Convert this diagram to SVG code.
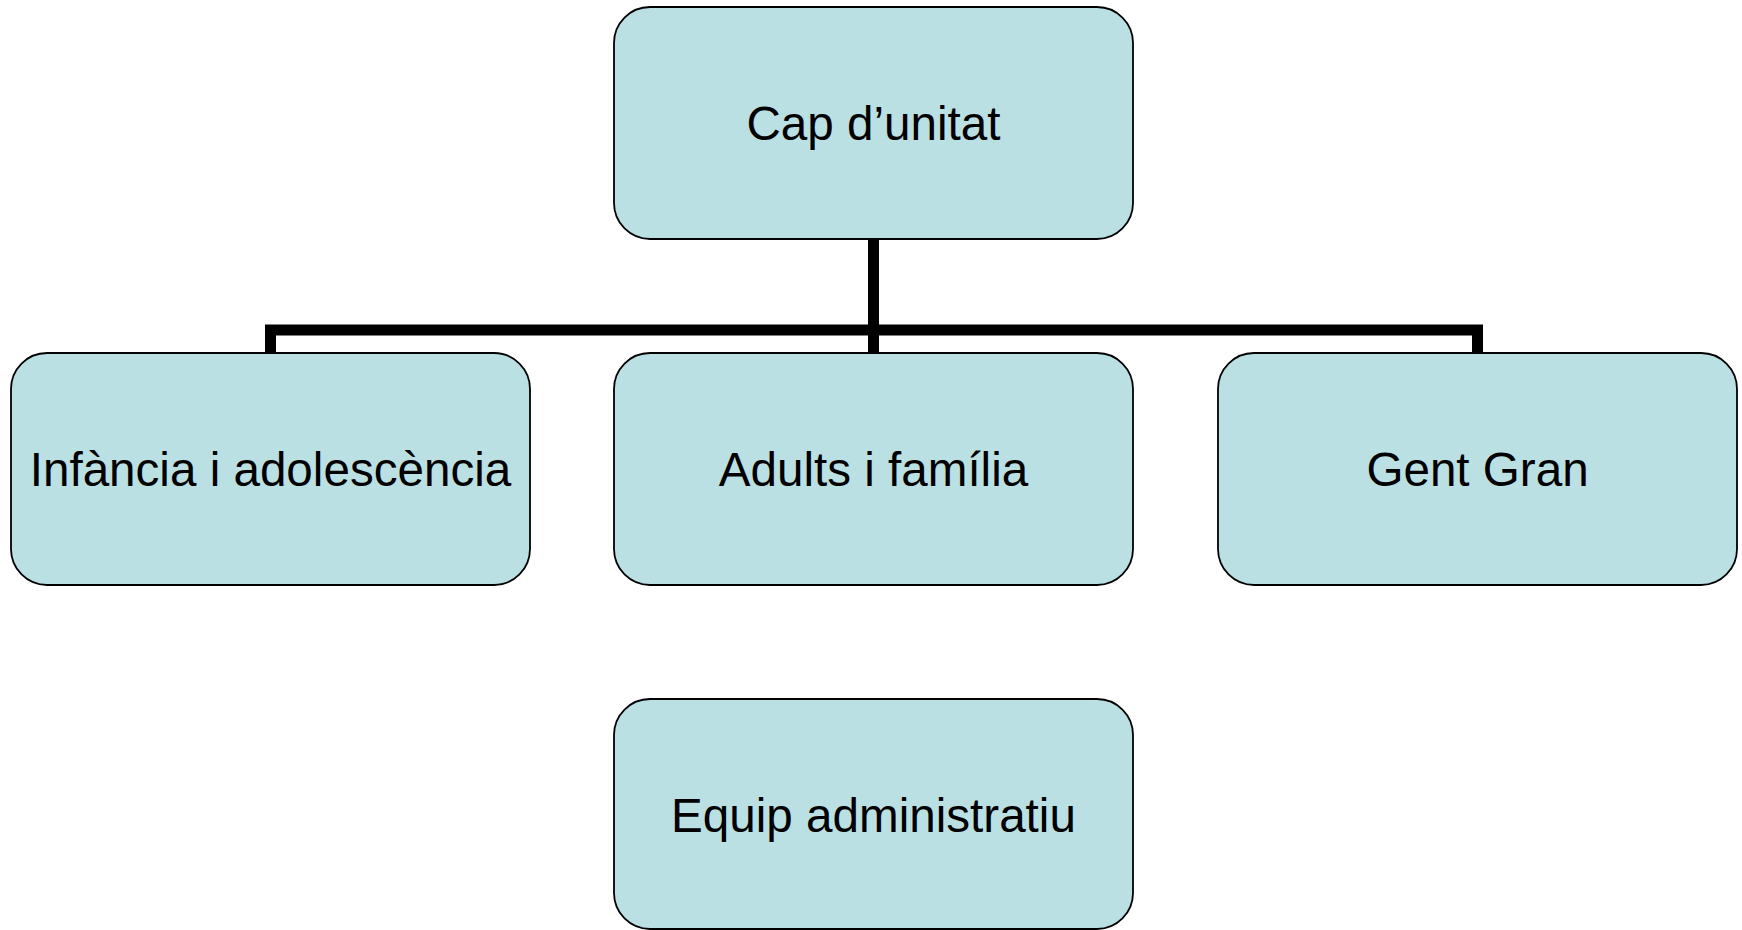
<svg xmlns="http://www.w3.org/2000/svg" width="1742" height="930" viewBox="0 0 1742 930">
<style>
.box{fill:#BBE0E3;stroke:#000;stroke-width:1.8}
.lbl{font-family:"Liberation Sans",Arial,sans-serif;font-size:47.6px;fill:#000;text-anchor:middle}
.conn{fill:none;stroke:#000;stroke-width:11;stroke-linejoin:miter;stroke-linecap:butt}
</style>
<rect width="1742" height="930" fill="#fff"/>
<g id="connectors">
<path class="conn" d="M873.5 239 V353"/>
<path class="conn" d="M270.5 353 V330 H1477.5 V353"/>
</g>
<g id="cap">
<rect class="box" x="614" y="7" width="519" height="232" rx="36" ry="36"/>
<text class="lbl" x="873.5" y="140">Cap d’unitat</text>
</g>
<g id="infancia">
<rect class="box" x="11" y="353" width="519" height="232" rx="36" ry="36"/>
<text class="lbl" x="270.5" y="486">Infància i adolescència</text>
</g>
<g id="adults">
<rect class="box" x="614" y="353" width="519" height="232" rx="36" ry="36"/>
<text class="lbl" x="873.5" y="486">Adults i família</text>
</g>
<g id="gent">
<rect class="box" x="1218" y="353" width="519" height="232" rx="36" ry="36"/>
<text class="lbl" x="1477.5" y="486">Gent Gran</text>
</g>
<g id="equip">
<rect class="box" x="614" y="699" width="519" height="230" rx="36" ry="36"/>
<text class="lbl" x="873.5" y="832">Equip administratiu</text>
</g>
</svg>
